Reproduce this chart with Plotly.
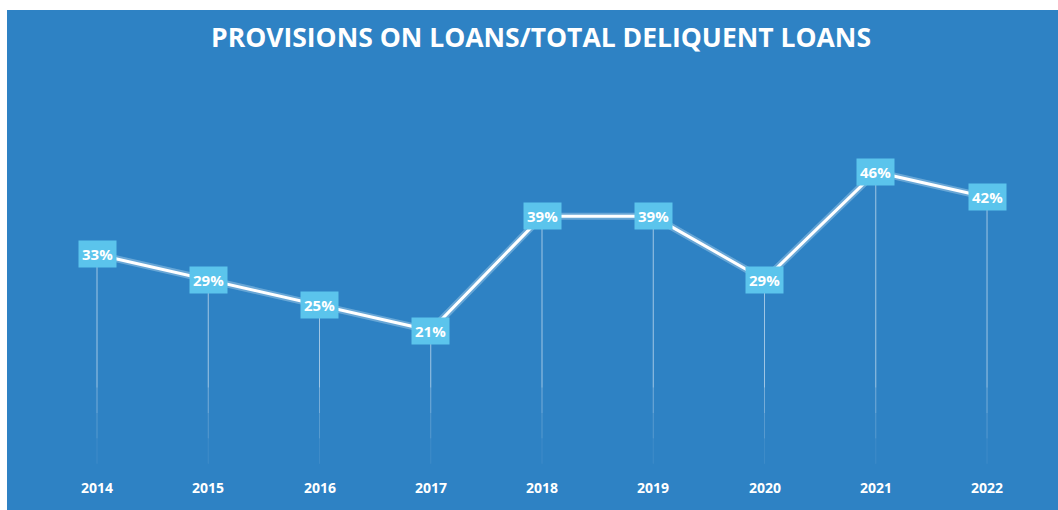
import plotly.graph_objects as go

years = [2014, 2015, 2016, 2017, 2018, 2019, 2020, 2021, 2022]
ratio_pct = [33, 29, 25, 21, 39, 39, 29, 46, 42]
tick_labels = [str(y) for y in years]

BG = "#2E82C4"
BOX = "#5BC4EC"
FONT = "Open Sans"

fig = go.Figure()

# Vertical drop lines from each point to zero, fading out toward the base
fade_steps = [(None, 12, 0.55), (12, 8, 0.35), (8, 4, 0.2), (4, 0, 0.08)]
for top, bottom, alpha in fade_steps:
    xs, ys = [], []
    for x, v in zip(years, ratio_pct):
        start = v if top is None else min(top, v)
        xs += [x, x, None]
        ys += [start, bottom, None]
    fig.add_trace(go.Scatter(x=xs, y=ys, mode="lines",
                             line=dict(color=f"rgba(255,255,255,{alpha})", width=1),
                             hoverinfo="skip", showlegend=False))

# Soft shadow under the main line
fig.add_trace(go.Scatter(x=years, y=ratio_pct, mode="lines",
                         line=dict(color="rgba(210,235,250,0.35)", width=7),
                         hoverinfo="skip", showlegend=False))
fig.add_trace(go.Scatter(x=years, y=ratio_pct, mode="lines",
                         line=dict(color="white", width=3),
                         showlegend=False))

# Value boxes on each point
for x, v in zip(years, ratio_pct):
    fig.add_annotation(x=x, y=v, xref="x", yref="y", text=f"<b>{v}%</b>",
                       showarrow=False, bgcolor=BOX, borderpad=3,
                       font=dict(color="white", size=15, family=FONT))

# Year labels along the base
for x, lab in zip(years, tick_labels):
    fig.add_annotation(x=x, y=0, xref="x", yref="paper", yanchor="middle",
                       yshift=23, text=f"<b>{lab}</b>", showarrow=False,
                       font=dict(color="white", size=14, family=FONT))

fig.add_annotation(x=0.5, y=1, xref="paper", yref="paper", xshift=8, yshift=-27,
                   text="<b>PROVISIONS ON LOANS/TOTAL DELIQUENT LOANS</b>",
                   showarrow=False, xanchor="center", yanchor="middle",
                   font=dict(color="white", size=26.5, family=FONT))

fig.update_layout(
    width=1058, height=510,
    margin=dict(l=7, r=0, t=10, b=0),
    paper_bgcolor="white", plot_bgcolor=BG,
    xaxis=dict(range=[2013.191, 2022.638], visible=False, fixedrange=True),
    yaxis=dict(range=[-7.28, 71.52], visible=False, fixedrange=True),
)

fig.write_html("out.html")
